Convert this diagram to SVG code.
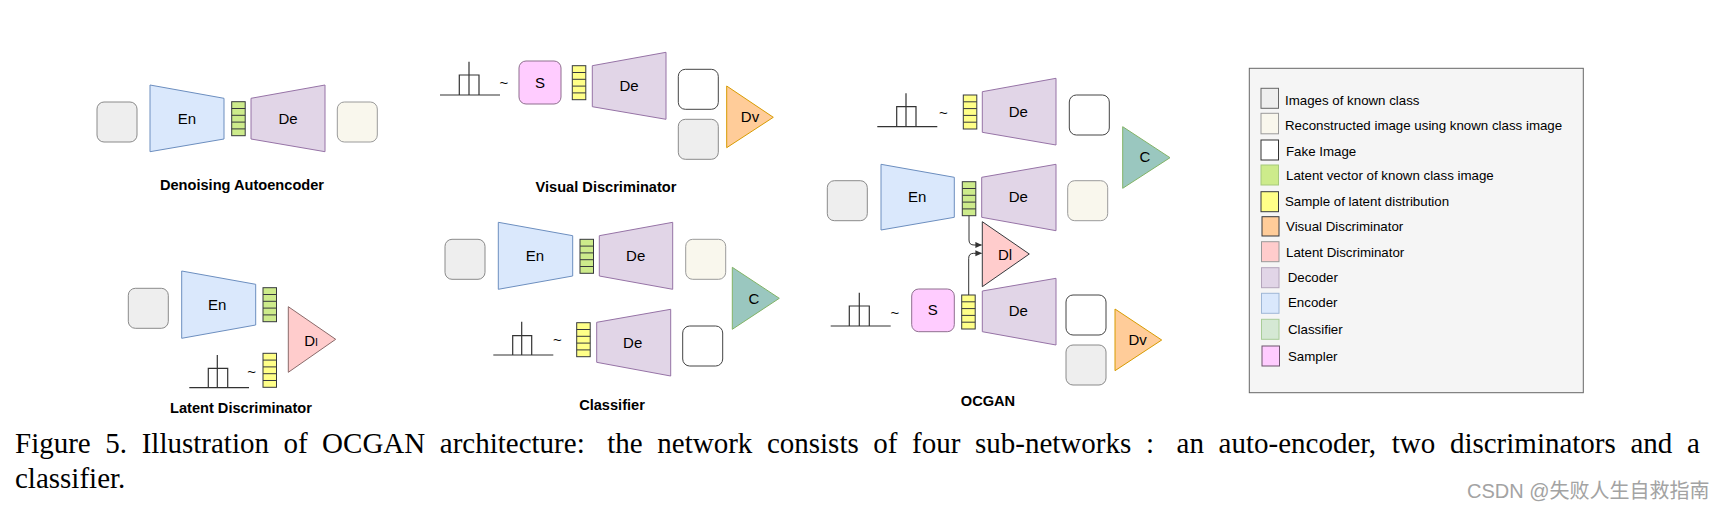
<svg xmlns="http://www.w3.org/2000/svg" width="1713" height="511" viewBox="0 0 1713 511">
<style>
.real{fill:#eeeeee;stroke:#8a8a8a;stroke-width:1}
.recon{fill:#f9f7ed;stroke:#9a9a9a;stroke-width:1}
.fake{fill:#ffffff;stroke:#444444;stroke-width:1}
.enc{fill:#dae8fc;stroke:#6c8ebf;stroke-width:1}
.dec{fill:#e1d5e7;stroke:#9673a6;stroke-width:1}
.lat{fill:#cdeb8b;stroke:#36393d;stroke-width:1}
.smp{fill:#ffff88;stroke:#36393d;stroke-width:1}
.sam{fill:#ffccff;stroke:#8f6f8f;stroke-width:1}
.dv{fill:#ffcc99;stroke:#d79b00;stroke-width:1}
.dl{fill:#ffcccc;stroke:#8a6a6a;stroke-width:1}
.cl{fill:#9ac7bf;stroke:#82b366;stroke-width:1}
.dist{fill:none;stroke:#333333;stroke-width:1.2}
.lbl{font-family:"Liberation Sans",Arial,sans-serif;font-size:15px;fill:#000;text-anchor:middle}
.tl{font-family:"Liberation Sans",Arial,sans-serif;font-size:14.6px;font-weight:bold;fill:#000;text-anchor:middle}
.tld{font-family:"Liberation Sans",Arial,sans-serif;font-size:15px;fill:#000;text-anchor:middle}
.leg{font-family:"Liberation Sans",Arial,sans-serif;font-size:13.3px;fill:#000}
.cap{font-family:"Liberation Serif","Times New Roman",serif;font-size:29px;fill:#000}
.conn{fill:none;stroke:#333333;stroke-width:1}
</style>
<defs>
<marker id="ah" viewBox="0 0 8 8" refX="7" refY="4" markerWidth="7" markerHeight="7" markerUnits="userSpaceOnUse" orient="auto">
<path d="M0,0.5 L7.5,4 L0,7.5 Z" fill="#333333"/>
</marker>
<g id="vec5">
<rect x="0" y="0" width="13.5" height="34"/>
<line x1="0" y1="6.8" x2="13.5" y2="6.8"/>
<line x1="0" y1="13.6" x2="13.5" y2="13.6"/>
<line x1="0" y1="20.4" x2="13.5" y2="20.4"/>
<line x1="0" y1="27.2" x2="13.5" y2="27.2"/>
</g>
</defs>
<rect width="1713" height="511" fill="#ffffff"/>

<g id="denoising-autoencoder">
<rect class="real" x="97" y="102" width="40" height="40" rx="7"/>
<polygon class="enc" points="150,85 224,98.3 224,139 150,151.7"/>
<text class="lbl" x="187" y="123.5">En</text>
<use href="#vec5" class="lat" x="231.7" y="101.7"/>
<polygon class="dec" points="251,98.3 325,85 325,151.7 251,139"/>
<text class="lbl" x="288" y="123.5">De</text>
<rect class="recon" x="337.3" y="102" width="40" height="40" rx="7"/>
<text class="tl" x="242" y="190">Denoising Autoencoder</text>
</g>

<g id="visual-discriminator">
<path class="dist" d="M440,95 H500 M459.3,95 V75 H479 V95 M469,61.7 V95"/>
<text class="tld" x="504" y="88">~</text>
<rect class="sam" x="519" y="61" width="42" height="43" rx="7"/>
<text class="lbl" x="540" y="88">S</text>
<use href="#vec5" class="smp" x="572.3" y="65.7"/>
<polygon class="dec" points="592.3,65.7 666,52.3 666,119.3 592.3,106.7"/>
<text class="lbl" x="629" y="91.4">De</text>
<rect class="fake" x="678.3" y="69.3" width="40" height="40" rx="7"/>
<rect class="real" x="678.3" y="119.3" width="40" height="40" rx="7"/>
<polygon class="dv" points="726.7,86 773.3,117.3 726.7,147.7"/>
<text class="lbl" x="750" y="122">Dv</text>
<text class="tl" x="606" y="192">Visual Discriminator</text>
</g>

<g id="latent-discriminator">
<rect class="real" x="128.3" y="288.3" width="40" height="40" rx="7"/>
<polygon class="enc" points="181.7,271 255.7,284.3 255.7,325 181.7,338.3"/>
<text class="lbl" x="217.3" y="309.5">En</text>
<use href="#vec5" class="lat" x="263" y="287.7"/>
<polygon class="dl" points="288.3,306.7 335.7,339.3 288.3,372.3"/>
<text class="lbl" x="311" y="345.5">D<tspan font-size="11">l</tspan></text>
<path class="dist" d="M189.3,387.7 H249 M208.3,387.7 V368.3 H227.7 V387.7 M217.3,355 V387.7"/>
<text class="tld" x="251.7" y="377">~</text>
<use href="#vec5" class="smp" x="263" y="353.3"/>
<text class="tl" x="241" y="413">Latent Discriminator</text>
</g>

<g id="classifier">
<rect class="real" x="445" y="239.3" width="40" height="40" rx="7"/>
<polygon class="enc" points="498.3,222.3 572.7,235.7 572.7,276 498.3,289.3"/>
<text class="lbl" x="535" y="260.5">En</text>
<use href="#vec5" class="lat" x="580" y="239.3"/>
<polygon class="dec" points="599.3,235.7 672.7,222.3 672.7,289.3 599.3,276"/>
<text class="lbl" x="635.7" y="260.5">De</text>
<rect class="recon" x="685.7" y="239.3" width="40" height="40" rx="7"/>
<polygon class="cl" points="732.3,267.3 779.3,298.3 732.3,329.3"/>
<text class="lbl" x="754" y="303.7">C</text>
<path class="dist" d="M493.3,355 H553.3 M512.7,355 V335.7 H531.7 V355 M521.7,321.7 V355"/>
<text class="tld" x="557.3" y="345">~</text>
<use href="#vec5" class="smp" x="576.7" y="322.7"/>
<polygon class="dec" points="596.7,322.3 670.7,309.3 670.7,376 596.7,362.3"/>
<text class="lbl" x="632.7" y="347.7">De</text>
<rect class="fake" x="682.7" y="326" width="40" height="40" rx="7"/>
<text class="tl" x="612" y="410">Classifier</text>
</g>

<g id="ocgan">
<path class="dist" d="M877.3,126.7 H937.3 M896.7,126.7 V106.7 H916 V126.7 M906,93.3 V126.7"/>
<text class="tld" x="943.3" y="118">~</text>
<use href="#vec5" class="smp" x="963.3" y="95"/>
<polygon class="dec" points="982.3,91.7 1056,78.3 1056,145 982.3,132.3"/>
<text class="lbl" x="1018.3" y="117">De</text>
<rect class="fake" x="1069.3" y="95" width="40" height="40" rx="7"/>
<polygon class="cl" points="1122.7,126.7 1170,157.7 1122.7,188.3"/>
<text class="lbl" x="1145" y="161.5">C</text>
<rect class="real" x="827.3" y="180.7" width="40" height="40" rx="7"/>
<polygon class="enc" points="881,164.3 954.3,177.3 954.3,217.3 881,230"/>
<text class="lbl" x="917.3" y="202">En</text>
<use href="#vec5" class="lat" x="962.3" y="181.7"/>
<polygon class="dec" points="981.7,177.3 1056,164.3 1056,230.7 981.7,217.3"/>
<text class="lbl" x="1018.3" y="202">De</text>
<rect class="recon" x="1067.7" y="180.7" width="40" height="40" rx="7"/>
<polygon class="dl" points="982.3,221.7 1029.3,254 982.3,286.7" style="stroke:#36393d"/>
<text class="lbl" x="1005" y="259.5">Dl</text>
<path class="dist" d="M830.7,326 H890.7 M849.3,326 V306 H869.3 V326 M859.3,292.7 V326"/>
<text class="tld" x="895" y="318">~</text>
<rect class="sam" x="911.7" y="289" width="42.6" height="42.7" rx="7"/>
<text class="lbl" x="932.7" y="314.5">S</text>
<use href="#vec5" class="smp" x="961.7" y="295"/>
<polygon class="dec" points="982.3,291 1056,278.3 1056,345 982.3,331.7"/>
<text class="lbl" x="1018.3" y="316">De</text>
<rect class="fake" x="1066" y="295" width="40" height="40" rx="7"/>
<rect class="real" x="1066" y="345" width="40" height="40" rx="7"/>
<polygon class="dv" points="1115,309 1161.7,340 1115,370.7"/>
<text class="lbl" x="1137.7" y="344.5">Dv</text>
<text class="tl" x="988" y="406">OCGAN</text>
</g>

<g id="connectors">
<path class="conn" d="M969,215.7 V240 Q969,245 974,245 H981.5" marker-end="url(#ah)"/>
<path class="conn" d="M968.7,295 V258.3 Q968.7,253.3 973.7,253.3 H981.5" marker-end="url(#ah)"/>
</g>

<g id="legend">
<rect x="1249.3" y="68.3" width="334" height="324.4" fill="#f5f5f5" stroke="#666666" stroke-width="1"/>
<rect x="1261" y="88.3" width="17.5" height="20" fill="#eeeeee" stroke="#666666"/>
<text class="leg" x="1285" y="104.5">Images of known class</text>
<rect x="1261" y="113.3" width="17.5" height="20.5" fill="#f9f7ed" stroke="#9a9a9a"/>
<text class="leg" x="1285" y="129.5">Reconstructed image using known class image</text>
<rect x="1261" y="140" width="17.5" height="20" fill="#ffffff" stroke="#333333"/>
<text class="leg" x="1286" y="155.5">Fake Image</text>
<rect x="1261" y="165" width="17.5" height="20" fill="#cdeb8b" stroke="#a6c97a"/>
<text class="leg" x="1286" y="180">Latent vector of known class image</text>
<rect x="1261" y="191.7" width="17.5" height="20" fill="#ffff88" stroke="#36393d"/>
<text class="leg" x="1285" y="206">Sample of latent distribution</text>
<rect x="1262" y="216.7" width="17" height="19.3" fill="#ffcc99" stroke="#36393d"/>
<text class="leg" x="1286" y="230.5">Visual Discriminator</text>
<rect x="1261.5" y="241.7" width="17.5" height="20" fill="#ffcccc" stroke="#999999"/>
<text class="leg" x="1286" y="257">Latent Discriminator</text>
<rect x="1261.5" y="267.7" width="17.5" height="20" fill="#e1d5e7" stroke="#b3a4bb"/>
<text class="leg" x="1287.7" y="282">Decoder</text>
<rect x="1261.5" y="293.3" width="17.5" height="20" fill="#dae8fc" stroke="#9fb7d6"/>
<text class="leg" x="1288" y="307">Encoder</text>
<rect x="1261.5" y="319.3" width="17.5" height="20" fill="#d5e8d4" stroke="#a8cc98"/>
<text class="leg" x="1288" y="334">Classifier</text>
<rect x="1262" y="346" width="17.5" height="20" fill="#ffccff" stroke="#6d546d"/>
<text class="leg" x="1288" y="360.5">Sampler</text>
</g>

<g id="caption">
<text class="cap" y="453"><tspan x="15">Figure</tspan><tspan x="105.3">5.</tspan><tspan x="141.7">Illustration</tspan><tspan x="283.4">of</tspan><tspan x="322.1">OCGAN</tspan><tspan x="439.8">architecture:</tspan><tspan x="607.3">the</tspan><tspan x="657.3">network</tspan><tspan x="766.9">consists</tspan><tspan x="873.3">of</tspan><tspan x="912.1">four</tspan><tspan x="975">sub-networks</tspan><tspan x="1145.9">:</tspan><tspan x="1176.6">an</tspan><tspan x="1218.6">auto-encoder,</tspan><tspan x="1391.8">two</tspan><tspan x="1449.9">discriminators</tspan><tspan x="1630.4">and</tspan><tspan x="1686.9">a</tspan></text>
<text class="cap" x="15" y="488">classifier.</text>
<text x="1467" y="498" font-family="'Liberation Sans','Noto Sans CJK SC',sans-serif" font-size="20" fill="#a3a3a3">CSDN @失败人生自救指南</text>
</g>
</svg>
